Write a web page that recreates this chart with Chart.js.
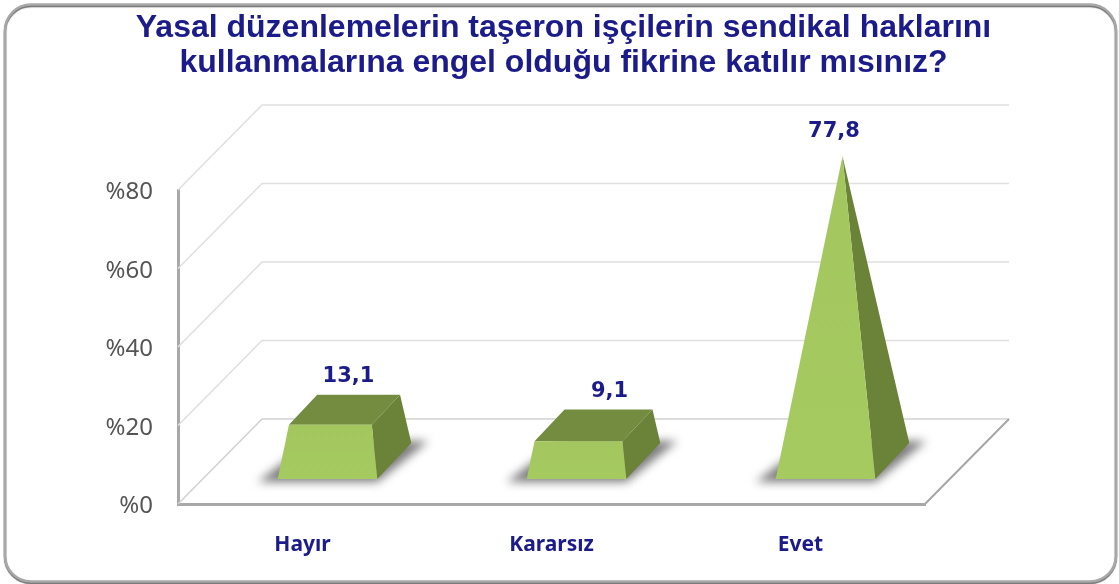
<!DOCTYPE html>
<html lang="tr">
<head>
<meta charset="utf-8">
<title>Chart</title>
<script src="https://cdn.jsdelivr.net/npm/chart.js@4"></script>
<style>html,body{margin:0;padding:0;background:#fff}canvas{display:block}</style>
</head>
<body>
<canvas id="c" width="1119" height="584"></canvas>
<script>
const titleLines = ["Yasal düzenlemelerin taşeron işçilerin sendikal haklarını", "kullanmalarına engel olduğu fikrine katılır mısınız?"];
const categories = ["Hayır", "Kararsız", "Evet"];
const values = [13.1, 9.1, 77.8];
const valueLabels = ["13,1", "9,1", "77,8"];
const yTicks = [0, 20, 40, 60, 80];

const NAVY = "#1b1b8a";
const DEPTH_X = 84, DEPTH_Y = 85;
const LABEL_OFFSETS = [[46, -76], [58, -77], [33.5, -67]];

function poly(ctx, pts, fill) {
  ctx.beginPath();
  pts.forEach((p, i) => i ? ctx.lineTo(p[0], p[1]) : ctx.moveTo(p[0], p[1]));
  ctx.closePath();
  ctx.fillStyle = fill;
  ctx.fill();
}

class PyramidBar extends Chart.BarElement {
  draw(ctx) {
    const { x, y, base, width } = this.getProps(["x", "y", "base", "width"]);
    const hw = width / 2;
    const yScale = this.$yScale;
    const front = 25, back = 60, mid = 42;
    const peakY = yScale.getPixelForValue(Math.max(...values)) - mid * DEPTH_Y / DEPTH_X;
    const apex = [x + mid, peakY];
    const t = this.$value / Math.max(...values);
    const lerp = p => [p[0] + (apex[0] - p[0]) * t, p[1] + (apex[1] - p[1]) * t];
    const fl = [x + front - hw, base - front];
    const fr = [x + front + hw, base - front];
    const br = [x + back + hw - 1, base - back - 1];
    const bl = [x + back - hw - 1, base - back - 1];

    ctx.save();
    ctx.filter = "blur(5px)";
    poly(ctx, [[fl[0] - 20, fl[1] + 3], [fr[0], fr[1] + 3], [br[0] + 17, br[1] - 2], [bl[0], br[1] - 2]], "#7c7c7c");
    ctx.restore();

    const tfl = lerp(fl), tfr = lerp(fr), tbr = lerp(br), tbl = lerp(bl);
    poly(ctx, [tbl, tbr, tfr, tfl], "#738c3f");
    poly(ctx, [fr, br, tbr, tfr], "#6b8339");
    const g = ctx.createLinearGradient(0, tfl[1], 0, fl[1]);
    g.addColorStop(0, "#a3c75e");
    g.addColorStop(1, "#a5ca60");
    poly(ctx, [fl, fr, tfr, tfl], g);
  }
}
PyramidBar.id = "pyramidBar";
PyramidBar.defaults = Chart.BarElement.defaults;

class PyramidController extends Chart.BarController {
  updateElements(bars, start, count, mode) {
    super.updateElements(bars, start, count, mode);
    for (let i = start; i < start + count; i++) {
      bars[i].$yScale = this._cachedMeta.vScale;
      bars[i].$value = this.getDataset().data[i];
    }
  }
}
PyramidController.id = "pyramid";
PyramidController.defaults = Object.assign({}, Chart.BarController.defaults, { dataElementType: "pyramidBar" });
PyramidController.overrides = Chart.BarController.overrides;

Chart.register(PyramidBar, PyramidController);

const framePlugin = {
  id: "frame",
  beforeDraw(chart) {
    const ctx = chart.ctx;
    ctx.save();
    ctx.fillStyle = "#fff";
    ctx.fillRect(0, 0, chart.width, chart.height);
    ctx.beginPath();
    ctx.roundRect(5, 4.5, 1111, 577, 26);
    ctx.fillStyle = "#fff";
    ctx.fill();
    ctx.lineWidth = 2.5;
    ctx.strokeStyle = "#a8a8a8";
    ctx.shadowColor = "#707070";
    ctx.shadowOffsetY = 1.5;
    ctx.shadowBlur = 1;
    ctx.stroke();
    ctx.restore();
    chart.scales.y.getLabelItems(chart.chartArea).forEach(item => {
      if (!item.$moved) {
        item.options.translation[1] += 2.5;
        item.$moved = true;
      }
    });
  },
  afterLayout(chart) {
    chart.titleBlock.left = 8;
    chart.titleBlock.right = 1119;
  }
};

const wallsPlugin = {
  id: "walls",
  beforeDatasetsDraw(chart) {
    const { ctx, chartArea: a, scales } = chart;
    const left = a.left, right = a.right;
    ctx.save();
    scales.y.ticks.forEach(t => {
      const py = scales.y.getPixelForValue(t.value);
      ctx.beginPath();
      ctx.moveTo(left, py);
      ctx.lineTo(left + DEPTH_X, py - DEPTH_Y);
      ctx.lineTo(right + DEPTH_X, py - DEPTH_Y);
      ctx.lineWidth = 1.6;
      ctx.strokeStyle = t.value === 0 ? "#d2d2d2" : "#e0e0e0";
      ctx.stroke();
    });
    const b = scales.y.getPixelForValue(0);
    ctx.beginPath();
    ctx.moveTo(right, b);
    ctx.lineTo(right + DEPTH_X, b - DEPTH_Y);
    ctx.lineWidth = 2;
    ctx.strokeStyle = "#a6a6a6";
    ctx.stroke();
    ctx.restore();
  }
};

const labelPlugin = {
  id: "valueLabels",
  afterDatasetsDraw(chart) {
    const ctx = chart.ctx;
    const bars = chart.getDatasetMeta(0).data;
    ctx.save();
    ctx.font = "bold 21px 'DejaVu Sans'";
    ctx.fillStyle = NAVY;
    ctx.textAlign = "center";
    ctx.textBaseline = "middle";
    bars.forEach((bar, i) => {
      ctx.fillText(valueLabels[i], bar.x + LABEL_OFFSETS[i][0], bar.y + LABEL_OFFSETS[i][1]);
    });
    ctx.restore();
  }
};

new Chart(document.getElementById("c"), {
  type: "pyramid",
  data: {
    labels: categories,
    datasets: [{
      data: values,
      clip: false,
      backgroundColor: "#a3c75e",
      barPercentage: 0.5,
      categoryPercentage: 0.8
    }]
  },
  plugins: [framePlugin, wallsPlugin, labelPlugin],
  options: {
    responsive: false,
    animation: false,
    layout: { padding: { left: 0, right: 194, top: 0, bottom: 0 } },
    plugins: {
      legend: { display: false },
      tooltip: { enabled: false },
      title: {
        display: true,
        text: titleLines,
        color: NAVY,
        font: { family: "'Liberation Sans'", size: 32, weight: "bold", lineHeight: 35 / 32 },
        padding: { top: 10.5, bottom: 109.5 }
      }
    },
    scales: {
      x: {
        afterFit(s) { s.height = 80; },
        grid: { display: false },
        border: { color: "#a8a8a8", width: 3 },
        ticks: { color: NAVY, font: { family: "'Noto Sans'", size: 21, weight: "bold" }, padding: 20, maxRotation: 0 }
      },
      y: {
        min: 0,
        max: 80,
        afterFit(s) { s.width = 178; },
        afterBuildTicks(s) { s.ticks = yTicks.map(v => ({ value: v })); },
        grid: { display: false, drawTicks: false },
        border: { color: "#a8a8a8", width: 3 },
        ticks: { color: "#555", font: { family: "'Noto Sans'", size: 24 }, padding: 25, callback: v => "%" + v }
      }
    }
  }
});
</script>
</body>
</html>
